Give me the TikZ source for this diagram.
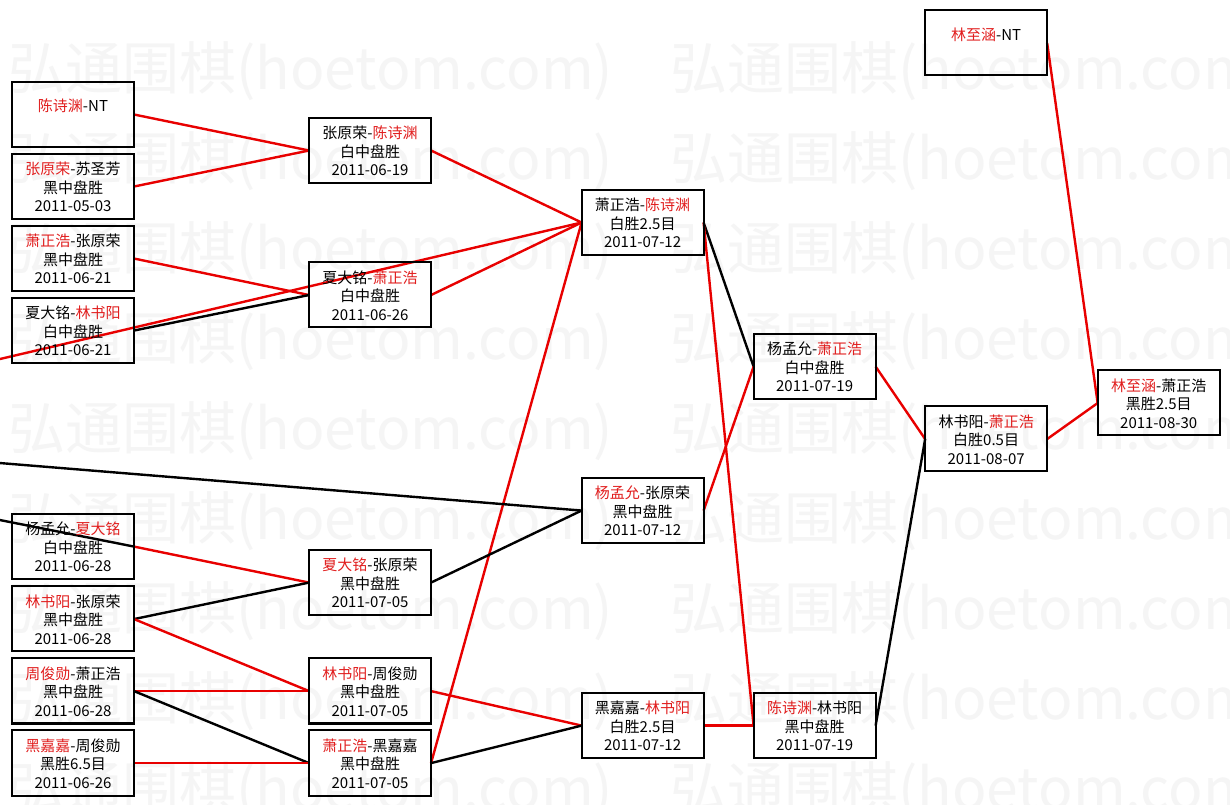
\documentclass[tikz,border=0pt]{standalone}
\usepackage{fontspec}
\usepackage{tikz-network}
\pgfdeclarelayer{paper}
\pgfsetlayers{paper,background,main}
\newfontfamily\cjk{Noto Sans CJK SC}
\definecolor{wred}{RGB}{225,30,30}
\definecolor{lred}{RGB}{232,0,0}
\newcommand{\W}[1]{\textcolor{wred}{#1}}
\newcommand{\game}[3]{\cjk\fontsize{7.5}{9.25}\selectfont\begin{tabular}{@{}c@{}}\rule{0pt}{9.5pt}#1\\#2\\#3\end{tabular}}
\tikzset{gamebox/.style={shape=rectangle, draw=black, fill=none, line width=1pt, minimum width=61pt, minimum height=32.5pt, inner sep=0pt},
  wmark/.style={font=\cjk\fontsize{28.5}{28.5}\selectfont, text=black!4, inner sep=0pt, anchor=west}}

\begin{document}
\begin{tikzpicture}[scale=1.7573]
\useasboundingbox (0,0) rectangle (12.3,-8.05);
\begin{pgfonlayer}{paper}
\fill[white] (0,0) rectangle (12.3,-8.05);
\clip (0,0) rectangle (12.3,-8.05);
\foreach \r in {0,...,8}
  \foreach \c in {0,1}
    \node[wmark] (wm\r\c) at (0.08+6.62*\c, -0.71-0.9*\r) {弘通围棋(hoetom.com)};
\end{pgfonlayer}

\Vertex[x=0.73, y=-1.145, style=gamebox, label={\game{\W{陈诗渊}-NT}{}{}}]{A1}
\Vertex[x=0.73, y=-1.865, style=gamebox, label={\game{\W{张原荣}-苏圣芳}{黑中盘胜}{2011-05-03}}]{A2}
\Vertex[x=0.73, y=-2.585, style=gamebox, label={\game{\W{萧正浩}-张原荣}{黑中盘胜}{2011-06-21}}]{A3}
\Vertex[x=0.73, y=-3.305, style=gamebox, label={\game{夏大铭-\W{林书阳}}{白中盘胜}{2011-06-21}}]{A4}
\Vertex[x=0.73, y=-5.465, style=gamebox, label={\game{杨孟允-\W{夏大铭}}{白中盘胜}{2011-06-28}}]{A5}
\Vertex[x=0.73, y=-6.19, style=gamebox, label={\game{\W{林书阳}-张原荣}{黑中盘胜}{2011-06-28}}]{A6}
\Vertex[x=0.73, y=-6.91, style=gamebox, label={\game{\W{周俊勋}-萧正浩}{黑中盘胜}{2011-06-28}}]{A7}
\Vertex[x=0.73, y=-7.63, style=gamebox, label={\game{\W{黑嘉嘉}-周俊勋}{黑胜6.5目}{2011-06-26}}]{A8}

\Vertex[x=3.70, y=-1.505, style=gamebox, label={\game{张原荣-\W{陈诗渊}}{白中盘胜}{2011-06-19}}]{B1}
\Vertex[x=3.70, y=-2.95, style=gamebox, label={\game{夏大铭-\W{萧正浩}}{白中盘胜}{2011-06-26}}]{B2}
\Vertex[x=3.70, y=-5.825, style=gamebox, label={\game{\W{夏大铭}-张原荣}{黑中盘胜}{2011-07-05}}]{B3}
\Vertex[x=3.70, y=-6.91, style=gamebox, label={\game{\W{林书阳}-周俊勋}{黑中盘胜}{2011-07-05}}]{B4}
\Vertex[x=3.70, y=-7.63, style=gamebox, label={\game{\W{萧正浩}-黑嘉嘉}{黑中盘胜}{2011-07-05}}]{B5}

\Vertex[x=6.425, y=-2.225, style=gamebox, label={\game{萧正浩-\W{陈诗渊}}{白胜2.5目}{2011-07-12}}]{C1}
\Vertex[x=6.425, y=-5.105, style=gamebox, label={\game{\W{杨孟允}-张原荣}{黑中盘胜}{2011-07-12}}]{C2}
\Vertex[x=6.425, y=-7.255, style=gamebox, label={\game{黑嘉嘉-\W{林书阳}}{白胜2.5目}{2011-07-12}}]{C3}

\Vertex[x=8.145, y=-3.665, style=gamebox, label={\game{杨孟允-\W{萧正浩}}{白中盘胜}{2011-07-19}}]{D1}
\Vertex[x=8.145, y=-7.255, style=gamebox, label={\game{\W{陈诗渊}-林书阳}{黑中盘胜}{2011-07-19}}]{D2}

\Vertex[x=9.86, y=-4.39, style=gamebox, label={\game{林书阳-\W{萧正浩}}{白胜0.5目}{2011-08-07}}]{E1}
\Vertex[x=9.86, y=-0.43, style=gamebox, label={\game{\W{林至涵}-NT}{}{}}]{T}
\Vertex[x=11.585, y=-4.03, style=gamebox, label={\game{\W{林至涵}-萧正浩}{黑胜2.5目}{2011-08-30}}]{F}

\Vertex[x=-0.5, y=-3.707, Pseudo]{L1}
\Vertex[x=-0.5, y=-4.589, Pseudo]{L2}
\Vertex[x=-0.5, y=-5.101, Pseudo]{L3}

\Edge[lw=1.2, color=lred](A1.east)(B1.west)
\Edge[lw=1.2, color=lred](A2.east)(B1.west)
\Edge[lw=1.2, color=lred](A3.east)(B2.west)
\Edge[lw=1.2, color=black](A4.east)(B2.west)
\Edge[lw=1.2, color=black](L3)(A5.east)
\Edge[lw=1.2, color=lred](A5.east)(B3.west)
\Edge[lw=1.2, color=black](A6.east)(B3.west)
\Edge[lw=1.2, color=lred](A6.east)(B4.west)
\Edge[lw=1.2, color=lred](A7.east)(B4.west)
\Edge[lw=1.2, color=black](A7.east)(B5.west)
\Edge[lw=1.2, color=lred](A8.east)(B5.west)
\Edge[lw=1.2, color=lred](L1)(C1.west)
\Edge[lw=1.2, color=lred](B1.east)(C1.west)
\Edge[lw=1.2, color=lred](B2.east)(C1.west)
\Edge[lw=1.2, color=lred](B5.east)(C1.west)
\Edge[lw=1.2, color=black](L2)(C2.west)
\Edge[lw=1.2, color=black](B3.east)(C2.west)
\Edge[lw=1.2, color=lred](B4.east)(C3.west)
\Edge[lw=1.2, color=black](B5.east)(C3.west)
\Edge[lw=1.2, color=black](C1.east)(D1.west)
\Edge[lw=1.2, color=lred](C2.east)(D1.west)
\Edge[lw=1.2, color=lred](C1.east)(D2.west)
\Edge[lw=1.2, color=lred](C3.east)(D2.west)
\Edge[lw=1.2, color=lred](D1.east)(E1.west)
\Edge[lw=1.2, color=black](D2.east)(E1.west)
\Edge[lw=1.2, color=lred](E1.east)(F.west)
\Edge[lw=1.2, color=lred](T.east)(F.west)
\end{tikzpicture}
\end{document}
